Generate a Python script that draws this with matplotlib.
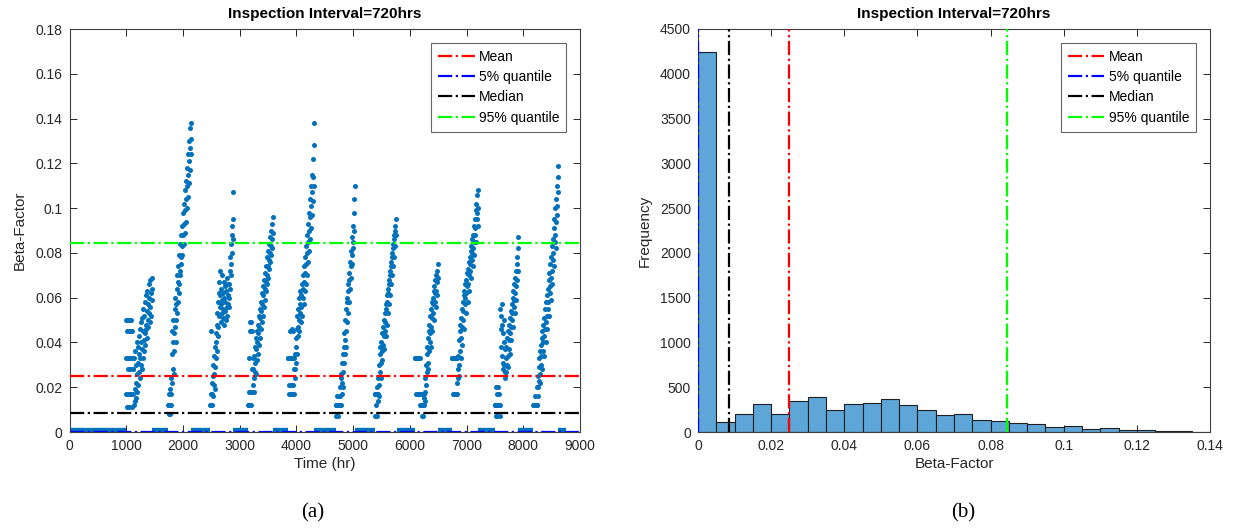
import numpy as np
import matplotlib
matplotlib.use("Agg")
import matplotlib.pyplot as plt

plt.rcParams['font.family'] = ['Liberation Sans', 'DejaVu Sans']

# ---------------------------------------------------------------------------
# Hourly beta-factor over one year (values in units of 1e-3).
# Each degradation episode: first hour and beta values sampled every STEP_HR.
# ---------------------------------------------------------------------------
STEP_HR = 6

ep1_start = 990
ep1_vals = [50, 33, 17, 45, 11, 50, 28, 33, 17, 45, 50, 11, 33, 17, 28, 45, 50, 17, 33, 11, 45, 28, 17,
            28, 12, 33, 19, 14, 36, 22, 30, 15, 40, 26, 18, 38, 31, 21, 43, 27, 35, 46, 24, 33, 49,
            30, 40, 28, 51, 37, 45, 33, 55, 41, 36, 52, 44, 58, 39, 48, 61, 46, 54, 42, 63, 50, 57,
            47, 66, 53, 60, 49, 68, 56, 62, 52, 69, 59, 64]

ep2_start = 1740
ep2_vals = [12, 8, 12, 17, 8, 12, 19, 24, 12, 17,
            35, 22, 45, 28, 40, 50, 26, 44, 36, 55, 47, 60, 40, 57, 50, 64, 53, 70, 58, 67, 74, 62,
            79, 66, 72, 84, 70, 78, 88, 75, 83, 92, 79, 88, 98, 84, 93, 102, 89, 99, 108, 94, 104,
            112, 100, 110, 118, 105, 115, 124, 111, 121, 130, 117, 127, 136, 124, 138, 131]

ep3_start = 2480
ep3_vals = [12, 17, 12, 45, 17, 12, 22,
            25, 16, 30, 21, 34, 26, 19, 38, 29, 44, 33, 40, 48, 36, 53, 43, 58, 47, 62, 52, 67, 56,
            72, 61,
            57, 49, 64, 53, 70, 59, 51, 62, 55, 67, 48, 60, 65, 54, 58, 50, 63, 56, 69, 52, 61, 57, 66,
            56, 66, 60, 72, 64, 78, 70, 84, 75, 88, 80, 92, 86, 107, 95]

ep4_start = 3150
ep4_vals = [12, 18, 12, 33, 18, 49, 45, 12, 18, 49, 45, 28, 18, 33, 21,
            28, 18, 34, 24, 38, 27, 31, 42, 26, 37, 45, 32, 40, 48, 35, 44, 52, 39, 47, 55, 42, 51,
            58, 46, 54, 62, 49, 57, 65, 52, 61, 68, 56, 64, 71, 59, 67, 74, 63, 70, 78, 66, 74, 81,
            69, 77, 84, 73, 80, 87, 76, 83, 90, 79, 86, 93, 82, 89, 96]

ep5_start = 3850
ep5_vals = [33, 33, 17, 33, 21, 33, 45, 33, 17, 33, 21, 46, 33, 17, 33, 45, 21, 33, 17, 28,
            24, 35, 28, 42, 31, 38, 46, 35, 52, 43, 55, 47, 50, 60, 45, 57, 53, 63, 49, 61, 56, 66,
            52, 64, 60, 70, 57, 67, 74, 63, 71, 78, 66, 75, 83, 70, 80, 88, 76, 85, 93, 81, 90, 98,
            86, 96, 104, 91, 101, 110, 97, 107, 115, 103, 114, 122, 110, 128, 138]

ep6_start = 4690
ep6_vals = [12, 12, 7, 12, 16, 12, 12, 7, 12, 16, 12, 12, 20, 12, 16, 24, 12,
            26, 17, 31, 22, 35, 27, 20, 38, 31, 44, 35, 41, 50, 38, 55, 45, 60, 49, 58, 66, 53, 63,
            71, 58, 68, 76, 64, 74, 81, 69, 79, 87, 75, 85, 92, 82, 90, 98, 104, 110]

ep7_start = 5380
ep7_vals = [17, 17, 7, 17, 12, 17, 7, 17, 20, 17, 14,
            24, 16, 30, 21, 35, 27, 38, 24, 40, 31, 36, 44, 32, 47, 39, 43, 50, 37, 53, 45, 49, 57,
            43, 55, 61, 48, 58, 64, 53, 62, 68, 57, 66, 72, 61, 70, 76, 66, 74, 80, 70, 78, 84, 74,
            82, 88, 78, 86, 92, 83, 90, 95, 88]

ep8_start = 6090
ep8_vals = [33, 33, 17, 33, 33, 17, 33, 17, 33, 33, 17, 33, 17, 33, 17, 12, 33, 17, 12, 17, 7, 12, 17,
            12, 7, 12, 17, 12, 15,
            14, 24, 18, 30, 21, 35, 27, 38, 31, 42, 28, 45, 36, 48, 40, 44, 52, 38, 55, 47, 51, 58,
            45, 60, 53, 57, 63, 50, 65, 58, 62, 68, 56, 70, 63, 67, 72, 61, 75, 69]

ep9_start = 6735
ep9_vals = [33, 33, 33, 17, 33, 33, 17, 33, 33, 17, 33, 17, 33, 33, 17, 22, 33, 17, 28, 24,
            34, 25, 41, 30, 45, 36, 48, 33, 51, 42, 47, 55, 39, 58, 50, 54, 61, 46, 63, 57, 60, 66,
            53, 68, 62, 65, 71, 58, 73, 66, 70, 76, 63, 78, 72, 75, 81, 69, 83, 77, 80, 86, 74, 88,
            82, 85, 92, 79, 95, 88, 91, 99, 85, 102, 95, 98, 106, 92, 108, 100]

ep10_start = 7500
ep10_vals = [12, 12, 7, 20, 12, 17, 12, 7, 12, 20, 12, 17, 12, 12, 7, 12,
             55, 46, 52, 38, 48, 34, 57, 31, 44, 28, 40, 50, 30, 37, 27,
             24, 33, 27, 38, 30, 42, 34, 29, 45, 37, 41, 48, 35, 51, 44, 47, 54, 41, 57, 50, 53,
             60, 47, 63, 56, 59, 66, 53, 69, 62, 65, 72, 59, 75, 68, 78, 82, 72, 87]

ep11_start = 8176
ep11_vals = [12, 12, 12, 12, 12, 16, 12, 12, 12, 12, 20, 12, 12,
             16, 25, 20, 29, 23, 33, 26, 36, 22, 39, 30, 34, 42, 28, 45, 36, 40, 48, 34, 51, 43,
             46, 55, 40, 58, 49, 52, 61, 46, 64, 55, 58, 68, 52, 71, 62, 65, 75, 59, 78, 69, 72,
             83, 66, 86, 77, 80, 91, 74, 95, 85, 88, 100, 82, 104, 94, 97, 110, 101, 114, 107, 119]

episodes = [
    (ep1_start, ep1_vals), (ep2_start, ep2_vals), (ep3_start, ep3_vals),
    (ep4_start, ep4_vals), (ep5_start, ep5_vals), (ep6_start, ep6_vals),
    (ep7_start, ep7_vals), (ep8_start, ep8_vals), (ep9_start, ep9_vals),
    (ep10_start, ep10_vals), (ep11_start, ep11_vals),
]

# Hours during which the beta-factor is exactly zero (start, end)
zero_spans = [(0, 990), (1460, 1740), (2150, 2480), (2890, 3150), (3590, 3850),
              (4315, 4690), (5030, 5380), (5765, 6090), (6500, 6735), (7210, 7500),
              (7915, 8176), (8620, 8760)]

# Summary statistics of the beta-factor
stat_names = ['Mean', '5% quantile', 'Median', '95% quantile']
stat_values = [0.0249, 0.0, 0.0084, 0.0845]
stat_colors = ['#ff0000', '#0000ff', '#000000', '#00ff00']

# Histogram of the beta-factor (bin width 0.005)
bin_edges = [0.000, 0.005, 0.010, 0.015, 0.020, 0.025, 0.030, 0.035, 0.040, 0.045,
             0.050, 0.055, 0.060, 0.065, 0.070, 0.075, 0.080, 0.085, 0.090, 0.095,
             0.100, 0.105, 0.110, 0.115, 0.120, 0.125, 0.130, 0.135, 0.140]
bin_counts = [4240, 111, 204, 315, 196, 341, 396, 244, 315, 326,
              374, 300, 248, 193, 196, 137, 122, 104, 85, 52,
              63, 37, 44, 22, 19, 11, 7, 4]

title_text = 'Inspection Interval=720hrs'

# ---------------------------------------------------------------------------
DOT = '#0072BD'
AX_COLOR = '#262626'

fig = plt.figure(figsize=(12.35, 5.28), dpi=100)
ax1 = fig.add_axes([69.5 / 1235, 96 / 528, 510.5 / 1235, 403 / 528])
ax2 = fig.add_axes([698 / 1235, 96 / 528, 512 / 1235, 403 / 528])


def style_axes(ax):
    ax.tick_params(direction='in', top=True, right=True, length=5, width=0.7,
                   labelsize=10, colors=AX_COLOR, pad=5)
    for sp in ax.spines.values():
        sp.set_color('#404040')
        sp.set_linewidth(0.8)


def add_legend(ax):
    leg = ax.legend(loc='upper right', fontsize=10, frameon=True, fancybox=False,
                    edgecolor='#404040', handlelength=2.6, handletextpad=0.3,
                    borderpad=0.5, labelspacing=0.45, borderaxespad=1.0)
    leg.get_frame().set_linewidth(0.8)
    return leg


# (a) time series
for s, e in zero_spans:
    ax1.hlines(0, s, e, color=DOT, lw=6, zorder=2)
for start, vals in episodes:
    t = start + STEP_HR * np.arange(len(vals))
    ax1.scatter(t, np.asarray(vals) / 1000.0, s=13, color=DOT, linewidths=0, zorder=3)
for name, v, c in zip(stat_names, stat_values, stat_colors):
    ax1.axhline(v, color=c, ls='-.', lw=1.6, label=name, zorder=4)

ax1.set_xlim(0, 9000)
ax1.set_ylim(0, 0.18)
ax1.set_xticks(np.arange(0, 9001, 1000))
ax1.set_yticks(np.arange(0, 0.1801, 0.02))
ax1.set_yticklabels(['0', '0.02', '0.04', '0.06', '0.08', '0.1', '0.12', '0.14', '0.16', '0.18'])
ax1.set_xlabel('Time (hr)', fontsize=11, color=AX_COLOR, labelpad=3)
ax1.set_ylabel('Beta-Factor', fontsize=11, color=AX_COLOR, labelpad=6)
ax1.set_title(title_text, fontsize=11, fontweight='bold', pad=8)
style_axes(ax1)
add_legend(ax1)

# (b) histogram
edges = np.asarray(bin_edges)
ax2.bar(edges[:-1], bin_counts, width=np.diff(edges), align='edge',
        color='#5EA6D8', edgecolor='#1f1f1f', linewidth=0.8, zorder=2)
for name, v, c in zip(stat_names, stat_values, stat_colors):
    ax2.axvline(v, color=c, ls='-.', lw=1.6, label=name, zorder=4)

ax2.set_xlim(0, 0.14)
ax2.set_ylim(0, 4500)
ax2.set_xticks(np.arange(0, 0.1401, 0.02))
ax2.set_xticklabels(['0', '0.02', '0.04', '0.06', '0.08', '0.1', '0.12', '0.14'])
ax2.set_yticks(np.arange(0, 4501, 500))
ax2.set_xlabel('Beta-Factor', fontsize=11, color=AX_COLOR, labelpad=3)
ax2.set_ylabel('Frequency', fontsize=11, color=AX_COLOR, labelpad=6)
ax2.set_title(title_text, fontsize=11, fontweight='bold', pad=8)
style_axes(ax2)
add_legend(ax2)

# Panel captions
fig.text(313 / 1235, 1 - 513 / 528, '(a)', ha='center', va='center',
         fontsize=15, family='Liberation Serif')
fig.text(963 / 1235, 1 - 513 / 528, '(b)', ha='center', va='center',
         fontsize=15, family='Liberation Serif')

fig.savefig('out.png', dpi=100)
